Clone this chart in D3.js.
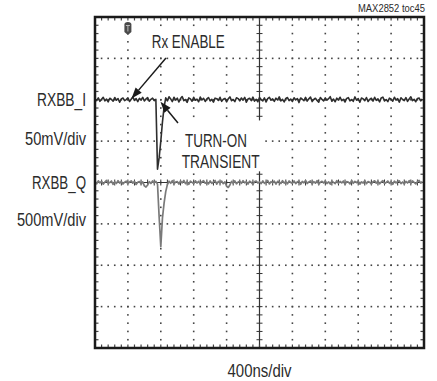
<!DOCTYPE html>
<html><head><meta charset="utf-8">
<script src="https://cdn.jsdelivr.net/npm/d3@7"></script>
<style>
body{margin:0;background:#fff}
text{font-family:'Liberation Sans Narrow','Arial Narrow','Liberation Sans',Arial,sans-serif;fill:#2b2b2b}
</style>
</head><body><svg id="c" width="437" height="381"></svg>
<script>
// ---- data ----
const timeStepNs = 20;               // sample spacing (ns)
const timeSpanNs = 4000;             // 10 div x 400 ns/div
const iScaleMvPerDiv = 50;           // RXBB_I 50 mV/div
const qScaleMvPerDiv = 500;          // RXBB_Q 500 mV/div
const iOffsetDiv = 2;                // RXBB_I trace position (div)
const qOffsetDiv = 0;                // RXBB_Q trace position (div)
const triggerNs = 400;               // trigger marker position

const rxbbI_mV = [
  1.3,-1.0,2.2,-1.9,0.5,3.0,-1.3,0.8,-2.6,1.8,
  0.3,-1.6,2.7,-0.6,1.4,-3.0,1.0,2.1,-1.1,0.2,
  2.4,-2.1,0.6,3.4,-0.8,1.3,-2.2,1.6,-0.3,2.9,
  -1.4,1.0,2.6,-1.8,0.5,1.9,-1.0,0.6,
  -84,-70,-50,-27,-9,
  2.4,-1.3,3.5,1.0,-2.2,3.0,-0.5,
  1.9,-2.7,1.4,3.8,-1.0,0.3,-3.2,2.2,1.1,-1.8,
  2.9,-0.6,0.8,-2.4,3.2,-0.3,1.8,-2.1,1.0,2.7,
  -1.4,0.5,-2.9,1.9,1.3,-0.8,3.0,-1.9,0.6,1.6,
  -2.6,1.1,3.4,-1.1,0.3,-2.2,2.4,1.4,-1.3,2.1,
  -0.5,2.9,-3.0,0.8,1.8,-1.0,3.2,-1.6,0.6,-2.4,
  2.6,0.2,-1.4,2.2,-2.7,1.3,3.0,-0.6,1.0,-1.9,
  1.9,-0.3,3.5,-1.3,0.5,-2.6,1.6,2.7,-1.0,0.8,
  -2.1,2.4,-0.2,1.4,-3.4,2.1,0.6,-1.1,2.9,-1.6,
  1.1,3.2,-2.2,0.3,1.8,-0.8,-2.9,2.6,0.5,-1.4,
  2.2,-0.5,1.3,3.7,-1.8,0.8,-2.4,1.9,-0.3,3.0,
  -1.1,0.6,-2.7,1.6,2.6,-1.3,0.3,-1.9,3.4,-0.6,
  1.4,-3.0,2.1,1.0,-1.0,2.7,-2.1,0.5,1.8,-1.6,
  2.9,-0.8,1.1,-2.6,2.2,3.2,-1.4,0.2,-2.2,1.9,
  0.8,-1.8,3.0,-0.5,1.3,-2.9,2.4,0.3,-1.1,2.6,
  -1.9,1.0,3.5,-1.0,0.6,-2.4,1.6,2.1,-1.3,0.8
];
const rxbbQ_mV = [
  10,-15,20,-5,15,-20,5,25,-10,0,
  18,-22,8,-12,22,-6,12,-18,4,16,
  -14,6,20,-8,14,-24,2,12,-16,8,
  -40,-55,-30,10,-12,18,-6,14,
  -20,-420,-775,-430,-250,-110,-25,
  15,-10,22,-18,6,
  12,-20,18,-4,24,-14,8,-22,16,2,
  -12,20,-6,14,-18,10,22,-8,4,-16,
  18,-10,6,24,-20,12,-4,16,-14,8,
  -45,-60,-30,12,-8,20,-16,6,14,-10,
  22,-4,10,-18,16,2,-22,12,18,-6,
  8,-14,20,-10,4,24,-18,10,-2,16,
  -20,14,6,-12,22,-6,10,-16,18,0,
  -10,20,-14,8,16,-22,12,-4,24,-12,
  6,18,-16,10,-8,22,-20,4,14,-6,
  20,-12,8,-18,16,2,-14,22,-8,12,
  -4,18,-22,10,6,-16,24,-10,14,-2,
  16,-20,8,-6,22,-14,12,4,-18,10,
  20,-8,14,-16,6,22,-12,0,18,-10,
  8,-22,16,-4,12,20,-14,6,-18,14,
  -6,22,-10,18,2,-16,10,24,-8,12
];
const channelLabels = ["RXBB_I","50mV/div","RXBB_Q","500mV/div"];
const xAxisLabel = "400ns/div";
const figureId = "MAX2852 toc45";
const annotations = [
  {text:"Rx ENABLE", tailNs:863, tailDiv:3.01, tipNs:444, tipDiv:2.03},
  {text:"TURN-ON TRANSIENT", tailNs:1009, tailDiv:1.44, tipNs:796, tipDiv:1.95}
];

// ---- scales ----
const svg = d3.select("#c");
const L=95, R=424, T=17, B=348;
const x = d3.scaleLinear().domain([0,timeSpanNs]).range([L,R]);
const y = d3.scaleLinear().domain([-4,4]).range([B,T]);
const majorX = d3.range(0,timeSpanNs+1,400);
const minorX = d3.range(0,timeSpanNs+1,80);
const majorY = d3.range(-4,4.001,1);
const minorY = d3.range(-4,4.001,0.2).map(v=>Math.round(v*10)/10);

const g = svg.append("g");
// dotted grid
const dots = [];
majorX.filter(t=>t>0&&t<timeSpanNs&&t!==2000).forEach(t=>{
  minorY.filter(v=>v>-4&&v<4).forEach(v=>dots.push([x(t),y(v)]));
});
majorY.filter(v=>v>-4&&v<4&&v!==0).forEach(v=>{
  minorX.filter(t=>t>0&&t<timeSpanNs).forEach(t=>dots.push([x(t),y(v)]));
});
g.selectAll("rect.dot").data(dots).join("rect").attr("class","dot")
  .attr("x",d=>d[0]-0.8).attr("y",d=>d[1]-0.8).attr("width",1.6).attr("height",1.6).attr("fill","#444");

// center axes with ticks
g.append("line").attr("x1",x(2000)).attr("x2",x(2000)).attr("y1",y(4)).attr("y2",y(-4)).attr("stroke","#333").attr("stroke-width",1.2);
g.append("line").attr("x1",x(0)).attr("x2",x(timeSpanNs)).attr("y1",y(0)).attr("y2",y(0)).attr("stroke","#333").attr("stroke-width",1);
g.selectAll("line.cty").data(minorY.filter(v=>v>-4&&v<4)).join("line").attr("class","cty")
  .attr("x1",x(2000)-3).attr("x2",x(2000)+3).attr("y1",d=>y(d)).attr("y2",d=>y(d)).attr("stroke","#333");
g.selectAll("line.ctx").data(minorX.filter(t=>t>0&&t<timeSpanNs)).join("line").attr("class","ctx")
  .attr("y1",y(0)-3).attr("y2",y(0)+3).attr("x1",d=>x(d)).attr("x2",d=>x(d)).attr("stroke","#333");
// border ticks
const bt = g.append("g").attr("stroke","#444").attr("stroke-width",1.2);
minorX.filter(t=>t>0&&t<timeSpanNs).forEach(t=>{
  bt.append("line").attr("x1",x(t)).attr("x2",x(t)).attr("y1",y(4)).attr("y2",y(4)+3.5);
  bt.append("line").attr("x1",x(t)).attr("x2",x(t)).attr("y1",y(-4)).attr("y2",y(-4)-3.5);
});
minorY.filter(v=>v>-4&&v<4).forEach(v=>{
  bt.append("line").attr("y1",y(v)).attr("y2",y(v)).attr("x1",x(0)).attr("x2",x(0)+3.5);
  bt.append("line").attr("y1",y(v)).attr("y2",y(v)).attr("x1",x(timeSpanNs)).attr("x2",x(timeSpanNs)-3.5);
});

// text boxes (white backgrounds)
svg.append("rect").attr("x",x(640)).attr("y",y(3.7)).attr("width",x(1620)-x(640)).attr("height",y(3.05)-y(3.7)).attr("fill","#fff");
svg.append("rect").attr("x",x(985)).attr("y",y(1.5)).attr("width",x(2045)-x(985)).attr("height",y(0.27)-y(1.5)).attr("fill","#fff");

// traces
const lineI = d3.line().x((d,i)=>x(i*timeStepNs)).y(d=>y(iOffsetDiv + d/iScaleMvPerDiv));
const lineQ = d3.line().x((d,i)=>x(i*timeStepNs)).y(d=>y(qOffsetDiv + d/qScaleMvPerDiv));
svg.append("path").attr("d",lineQ(rxbbQ_mV)).attr("fill","none").attr("stroke","#7a7a7a").attr("stroke-width",1.7).attr("stroke-linejoin","round");
svg.append("path").attr("d",lineI(rxbbI_mV)).attr("fill","none").attr("stroke","#2e2e2e").attr("stroke-width",1.6).attr("stroke-linejoin","round");

// border
svg.append("rect").attr("x",L).attr("y",T).attr("width",R-L).attr("height",B-T).attr("fill","none").attr("stroke","#1a1a1a").attr("stroke-width",2.5);

// trigger marker
const tx = x(triggerNs), ty = y(4)+5;
svg.append("path").attr("d",`M${tx-3.5},${ty+2.5} Q${tx-3.5},${ty} ${tx},${ty} Q${tx+3.5},${ty} ${tx+3.5},${ty+2.5} L${tx+3.5},${ty+10} L${tx},${ty+13} L${tx-3.5},${ty+10} Z`).attr("fill","#4a4a4a");
svg.append("path").attr("d",`M${tx-2},${ty+3.5} L${tx+2},${ty+3.5} M${tx},${ty+3.5} L${tx},${ty+9.5}`).attr("stroke","#bbb").attr("stroke-width",1);

// arrows
function arrow(a){
  const x1=x(a.tailNs), y1=y(a.tailDiv), x2=x(a.tipNs), y2=y(a.tipDiv);
  const ang=Math.atan2(y2-y1,x2-x1), len=11, w=4;
  const bx=x2-len*Math.cos(ang), by=y2-len*Math.sin(ang);
  svg.append("line").attr("x1",x1).attr("y1",y1).attr("x2",bx).attr("y2",by).attr("stroke","#1a1a1a").attr("stroke-width",1.5);
  const px=-Math.sin(ang)*w, py=Math.cos(ang)*w;
  svg.append("path").attr("d",`M${x2},${y2} L${bx+px},${by+py} L${bx-px},${by-py} Z`).attr("fill","#1a1a1a");
}
annotations.forEach(arrow);

// text helper (condensed look via textLength)
function label(px,py,s,size,w,anchor){
  return svg.append("text").attr("x",px).attr("y",py).attr("text-anchor",anchor||"start")
    .attr("font-size",size).attr("textLength",w).attr("lengthAdjust","spacingAndGlyphs").text(s);
}
label(x(1134),y(3.24),annotations[0].text,17.5,73,"middle");
const tt = annotations[1].text.split(" ");
label(x(1094),y(0.86),tt[0],17.5,62);
label(x(1054),y(0.35),tt[1],17.5,78);

// channel labels
const labY = [y(iOffsetDiv)+6.5, y(1.04)+6, y(qOffsetDiv)+6.5, y(-0.9)+6];
const labW = [49,61,54,69];
channelLabels.forEach((s,i)=>label(L-9,labY[i],s,17.5,labW[i],"end"));

label(x(2000),377,xAxisLabel,17.5,64,"middle");
label(R+1,11.5,figureId,10,67,"end");
</script></body></html>
